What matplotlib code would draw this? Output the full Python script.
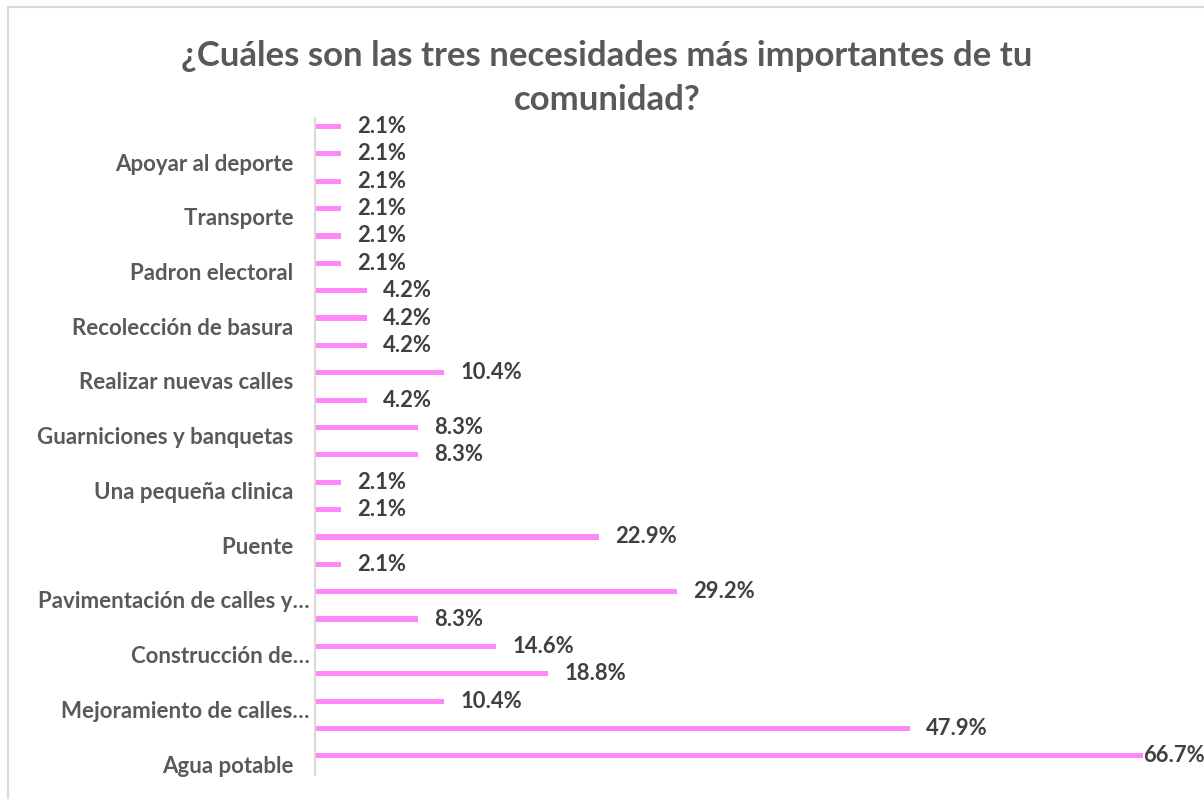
import matplotlib
matplotlib.use('Agg')
import matplotlib.pyplot as plt
from matplotlib.patches import Rectangle

# bottom to top, as drawn
labels = ['Agua potable   ', '', 'Mejoramiento de calles…', '', 'Construcción de…', '',
          'Pavimentación de calles y…', '', 'Puente   ', '', 'Una pequeña clinica   ', '',
          'Guarniciones y banquetas   ', '', 'Realizar nuevas calles   ', '',
          'Recolección de basura   ', '', 'Padron electoral   ', '', 'Transporte   ', '',
          'Apoyar al deporte   ', '']
values = [66.7, 47.9, 10.4, 18.8, 14.6, 8.3, 29.2, 2.1, 22.9, 2.1, 2.1, 8.3,
          8.3, 4.2, 10.4, 4.2, 4.2, 4.2, 2.1, 2.1, 2.1, 2.1, 2.1, 2.1]
title = '¿Cuáles son las tres necesidades más importantes de tu\ncomunidad?'

bar_color = '#FF88F8'
text_gray = '#595959'
font = 'Lato'

fig = plt.figure(figsize=(12.04, 7.99), dpi=100)
fig.patches.append(Rectangle((8 / 1204, -0.1), 1.2, 1 - 7 / 799 + 0.1, transform=fig.transFigure,
                             fill=False, edgecolor='#D9D9D9', linewidth=1.5))
ax = fig.add_axes([0.2616, 0.030, 0.6877, 0.822])

pos = list(range(len(values)))
ax.barh([p + 0.2 for p in pos], values, height=0.19, color=bar_color)
ax.set_xlim(0, 66.7)
ax.set_ylim(-0.5, len(values) - 0.5)

ax.set_yticks([p - 0.1 for p in pos])
ax.set_yticklabels(labels, fontfamily=font, fontweight='bold', fontsize=16, color=text_gray)
ax.tick_params(axis='y', length=0, pad=4)
ax.set_xticks([])

for s in ['top', 'right', 'bottom']:
    ax.spines[s].set_visible(False)
ax.spines['left'].set_color('#D9D9D9')
ax.spines['left'].set_linewidth(1.5)

vmax = max(values)
for p, v in zip(pos, values):
    off = 0 if v == vmax else 16
    ax.annotate('{:.1f}%'.format(v), (v, p + 0.2), xytext=(off, 0), textcoords='offset pixels',
                ha='left', va='center', fontfamily=font, fontweight='bold', fontsize=15.8,
                color='#404040', annotation_clip=False)

fig.text(0.504, 0.902, title, ha='center', va='center', fontfamily=font, fontweight='bold',
         fontsize=25, color=text_gray, linespacing=1.45)

fig.savefig('out.png', dpi=100)
